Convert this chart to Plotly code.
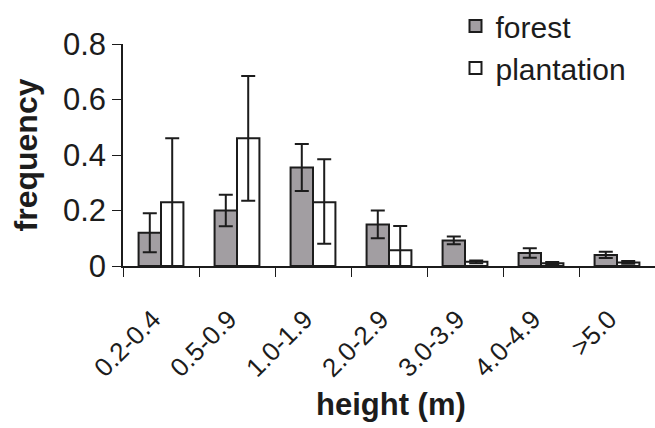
import plotly.graph_objects as go

# Height classes and mean frequency per class
height_classes = ["0.2-0.4", "0.5-0.9", "1.0-1.9", "2.0-2.9", "3.0-3.9", "4.0-4.9", ">5.0"]
forest_freq = [0.12, 0.20, 0.355, 0.15, 0.092, 0.047, 0.04]
forest_err = [0.07, 0.057, 0.085, 0.05, 0.014, 0.017, 0.011]
plantation_freq = [0.23, 0.46, 0.23, 0.057, 0.015, 0.01, 0.013]
plantation_err_up = [0.23, 0.225, 0.155, 0.087, 0.005, 0.004, 0.005]
plantation_err_down = [0.23, 0.225, 0.15, 0.057, 0.005, 0.004, 0.005]

INK = "#1c1c1c"
FONT = "Liberation Sans, Arial, sans-serif"

fig = go.Figure()
fig.add_trace(go.Bar(
    name="forest", x=height_classes, y=forest_freq,
    marker=dict(color="#a29ea2", line=dict(color=INK, width=2)),
    error_y=dict(type="data", array=forest_err, color=INK, thickness=2, width=7),
))
fig.add_trace(go.Bar(
    name="plantation", x=height_classes, y=plantation_freq,
    marker=dict(color="white", line=dict(color=INK, width=2)),
    error_y=dict(type="data", symmetric=False, array=plantation_err_up,
                 arrayminus=plantation_err_down, color=INK, thickness=2, width=7),
))

fig.update_layout(
    width=655, height=428,
    margin=dict(l=123, r=0, t=33, b=162),
    paper_bgcolor="white", plot_bgcolor="white",
    barmode="group", bargap=0.41, bargroupgap=0,
    font=dict(family=FONT, size=28, color=INK),
    showlegend=True,
    legend=dict(x=0.625, y=1.2, xanchor="left", yanchor="top",
                bgcolor="rgba(0,0,0,0)", font=dict(size=30), tracegroupgap=0),
    # x-axis title placed beneath the rotated category labels
    annotations=[dict(text="<b>height (m)</b>", xref="paper", yref="paper",
                      x=0.504, y=-0.625, xanchor="center", yanchor="middle",
                      showarrow=False, font=dict(size=31, color=INK))],
)
fig.update_xaxes(
    showline=True, linecolor=INK, linewidth=1.5,
    ticks="outside", tickson="boundaries", ticklen=9, tickcolor=INK,
    tickangle=-45, tickfont=dict(size=26),
    ticklabelstandoff=26, ticklabelshift=-8,
)
fig.update_yaxes(
    range=[0, 0.8], tickvals=[0, 0.2, 0.4, 0.6, 0.8],
    ticktext=["0", "0.2", "0.4", "0.6", "0.8"],
    showline=True, linecolor=INK, linewidth=1.5, showgrid=False, zeroline=False,
    ticks="outside", ticklen=9, tickcolor=INK, tickfont=dict(size=31),
    title=dict(text="<b>frequency</b>", font=dict(size=32), standoff=16),
)

fig.write_html("out.html")
